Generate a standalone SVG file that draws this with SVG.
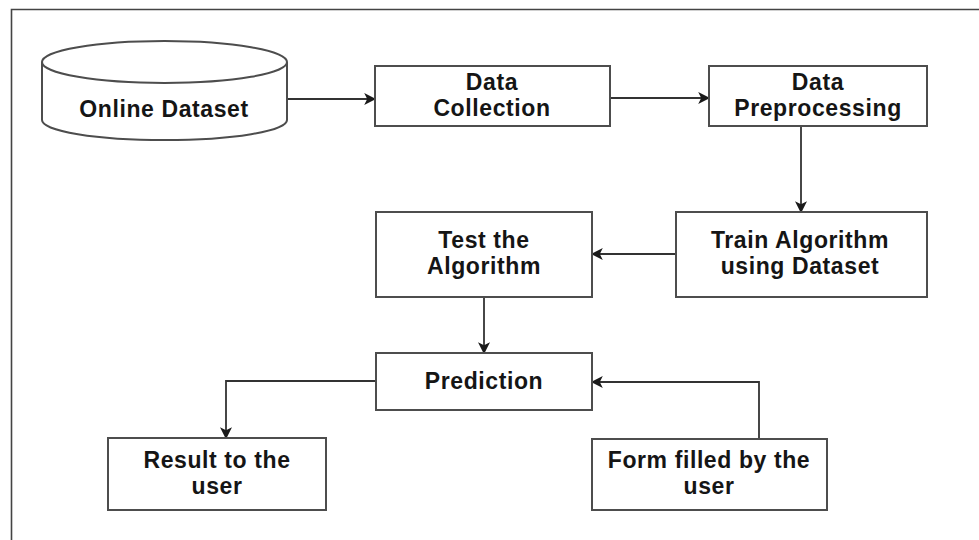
<svg xmlns="http://www.w3.org/2000/svg" width="979" height="540" viewBox="0 0 979 540">
  <style>
    .box { fill: #ffffff; stroke: #4d4d4d; stroke-width: 2; }
    .lbl { font-family: "Liberation Sans", Arial, sans-serif; font-weight: bold; font-size: 23px; letter-spacing: 0.6px; fill: #151515; text-anchor: middle; }
    .edge { fill: none; stroke: #333333; stroke-width: 1.8; marker-end: url(#arrow); }
  </style>
  <defs>
    <marker id="arrow" viewBox="0 0 10 10" refX="9" refY="5" markerWidth="12" markerHeight="12" markerUnits="userSpaceOnUse" orient="auto">
      <path d="M0,0 L10,5 L0,10 L2.5,5 Z" fill="#1a1a1a"/>
    </marker>
  </defs>
  <rect width="979" height="540" fill="#ffffff"/>

  <!-- outer frame -->
  <path d="M11.5,540 L11.5,9.5 L979,9.5" fill="none" stroke="#444444" stroke-width="1.6"/>

  <g id="edges">
    <path class="edge" d="M287,99 L375,99"/>
    <path class="edge" d="M610,98 L709,98"/>
    <path class="edge" d="M801,126 L801,212"/>
    <path class="edge" d="M676,254 L592,254"/>
    <path class="edge" d="M484,297 L484,353"/>
    <path class="edge" d="M376,381 L226,381 L226,438"/>
    <path class="edge" d="M759,439 L759,382 L592,382"/>
  </g>

  <g id="online-dataset">
    <path class="box" d="M42,62 L42,120 A122,20 0 0 0 287,120 L287,62"/>
    <ellipse class="box" cx="164.5" cy="62" rx="122.5" ry="21"/>
    <text class="lbl" x="164" y="117">Online Dataset</text>
  </g>

  <g id="data-collection">
    <rect class="box" x="375" y="66" width="235" height="60"/>
    <text class="lbl" x="492" y="90">Data</text>
    <text class="lbl" x="492" y="116">Collection</text>
  </g>

  <g id="data-preprocessing">
    <rect class="box" x="709" y="66" width="218" height="60"/>
    <text class="lbl" x="818" y="90">Data</text>
    <text class="lbl" x="818" y="116">Preprocessing</text>
  </g>

  <g id="train-algorithm">
    <rect class="box" x="676" y="212" width="251" height="85"/>
    <text class="lbl" x="800" y="248">Train Algorithm</text>
    <text class="lbl" x="800" y="274">using Dataset</text>
  </g>

  <g id="test-algorithm">
    <rect class="box" x="376" y="212" width="216" height="85"/>
    <text class="lbl" x="484" y="248">Test the</text>
    <text class="lbl" x="484" y="274">Algorithm</text>
  </g>

  <g id="prediction">
    <rect class="box" x="376" y="353" width="216" height="57"/>
    <text class="lbl" x="484" y="389">Prediction</text>
  </g>

  <g id="result-to-user">
    <rect class="box" x="108" y="438" width="218" height="72"/>
    <text class="lbl" x="217" y="468">Result to the</text>
    <text class="lbl" x="217" y="494">user</text>
  </g>

  <g id="form-filled">
    <rect class="box" x="592" y="439" width="235" height="71"/>
    <text class="lbl" x="709" y="468">Form filled by the</text>
    <text class="lbl" x="709" y="494">user</text>
  </g>
</svg>
